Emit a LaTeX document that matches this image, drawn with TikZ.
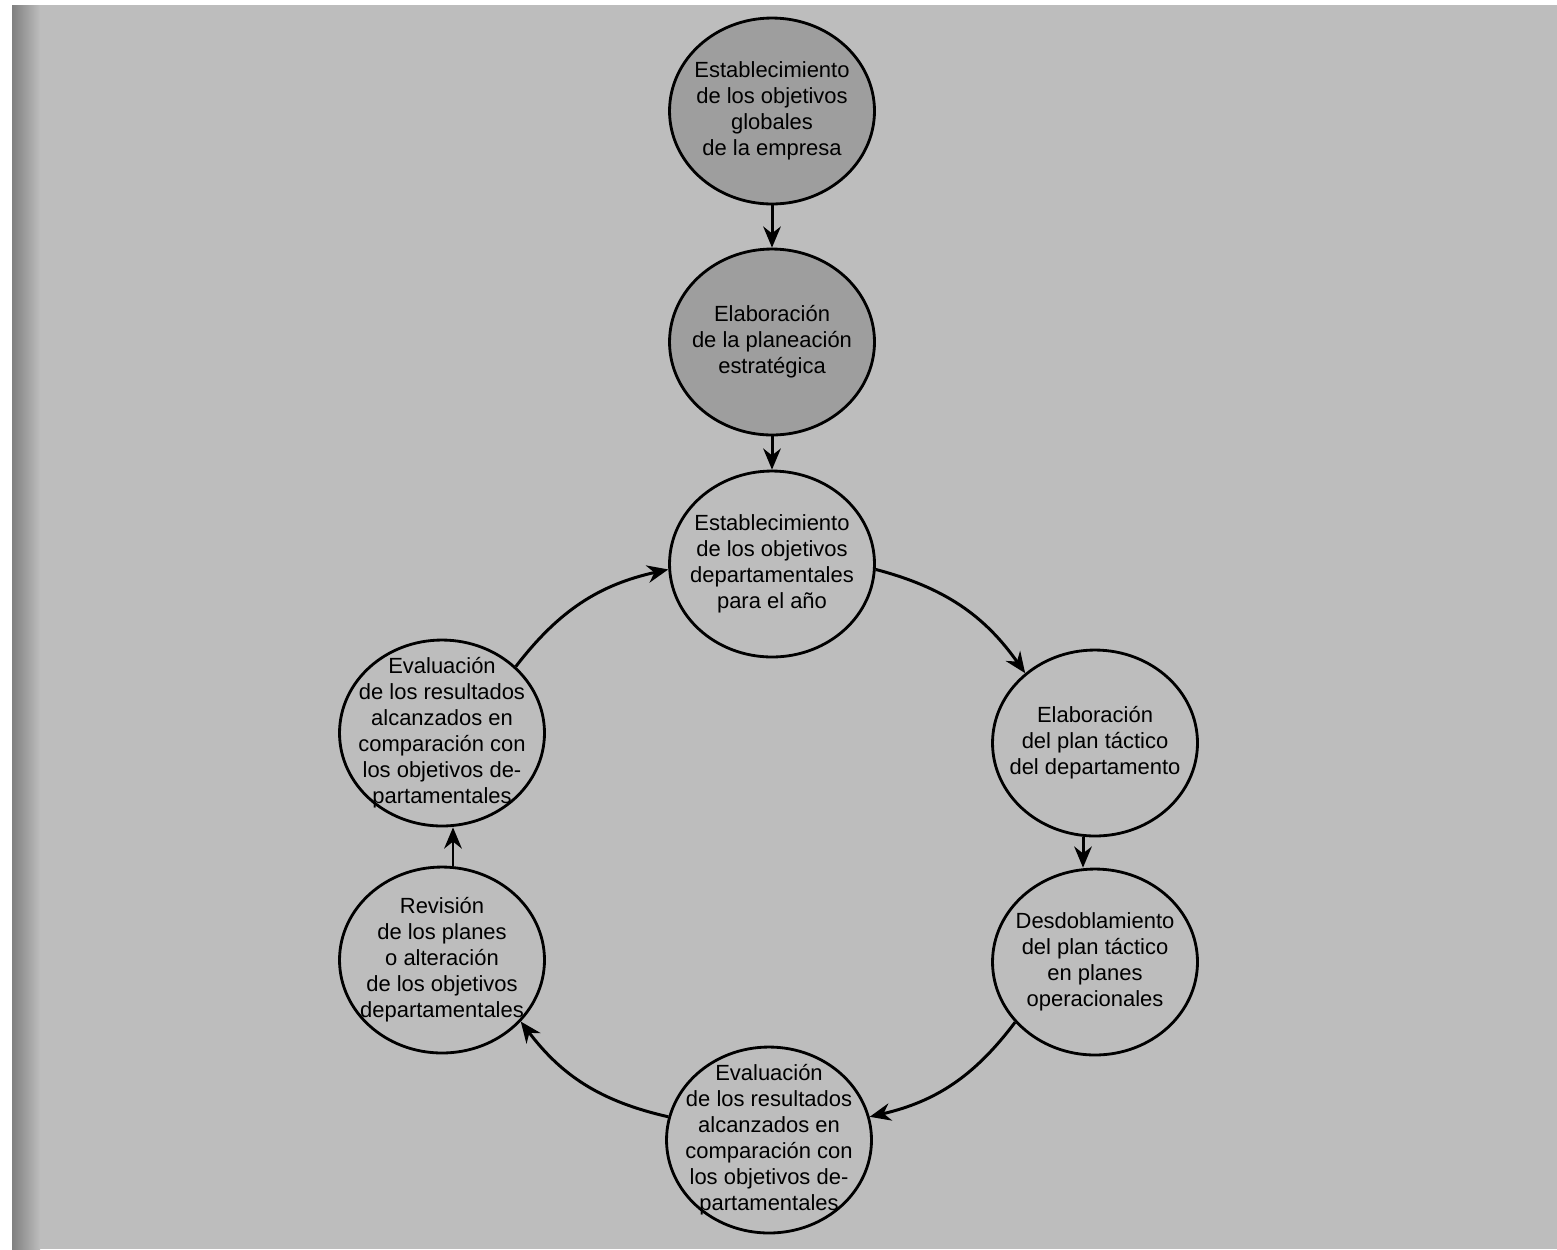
\documentclass[tikz,border=0pt]{standalone}
\usepackage{fontspec}
\setmainfont{Liberation Sans}
\usetikzlibrary{shapes.geometric,arrows.meta}
\definecolor{Fondo}{gray}{0.74}
\definecolor{Oscuro}{gray}{0.62}

\begin{document}
\begin{tikzpicture}[x=0.02cm, y=-0.02cm,  % coordenadas en px
    bubble/.style={draw, ellipse, fill=Fondo, line width=1.6pt, minimum width=4.1cm, minimum height=3.72cm, inner sep=0pt},
    txt/.style={align=center, font=\fontsize{12.5}{14.8}\selectfont},
    arr/.style={-{Stealth[length=12pt, width=10pt]}, line width=1.7pt}]
				\useasboundingbox (0,0) rectangle (1557,1249);
				\fill[Fondo] (12,5) rectangle (1557,1249);
				\shade[left color=black!50, right color=Fondo] (12,5) rectangle (40,1249);
				% circulos
				\node[bubble, fill=Oscuro, label={[txt]center:{Establecimiento\\de los objetivos\\globales\\de la empresa}}] (A) at (772,111) {};
				\node[bubble, fill=Oscuro, label={[txt]center:{Elaboración\\de la planeación\\estratégica}}] (B) at (772,342) {};
				\node[bubble, label={[txt]center:{Establecimiento\\de los objetivos\\departamentales\\para el año}}] (C) at (772,564) {};
				\node[bubble, label={[txt]center:{Elaboración\\del plan táctico\\del departamento}}] (D) at (1095,743) {};
				\node[bubble, label={[txt]center:{Desdoblamiento\\del plan táctico\\en planes\\operacionales}}] (E) at (1095,962) {};
				\node[bubble, label={[txt]center:{Evaluación\\de los resultados\\alcanzados en\\comparación con\\los objetivos de-\\partamentales}}] (F) at (769,1140) {};
				\node[bubble, label={[txt]center:{Revisión\\de los planes\\o alteración\\de los objetivos\\departamentales}}] (G) at (442,960) {};
				\node[bubble, label={[txt]center:{Evaluación\\de los resultados\\alcanzados en\\comparación con\\los objetivos de-\\partamentales}}] (H) at (442,733) {};
				% flechas
				\draw[arr] (A.south) -- (B.north);
				\draw[arr] (B.south) -- (C.north);
				\draw[arr] (C.-3) to[bend left=20] (D.135);
				\draw[arr] ([xshift=-0.24cm]D.south) -- ([xshift=-0.24cm]E.north);
				\draw[arr] (E.217) to[bend left=20] (F.13);
				\draw[arr] (F.167) to[bend left=20] (G.-38);
				\draw[arr] ([xshift=0.22cm]G.north) -- ([xshift=0.22cm]H.south);
				\draw[arr] (H.42) to[bend left=20] (C.183);
			\end{tikzpicture}
\end{document}
